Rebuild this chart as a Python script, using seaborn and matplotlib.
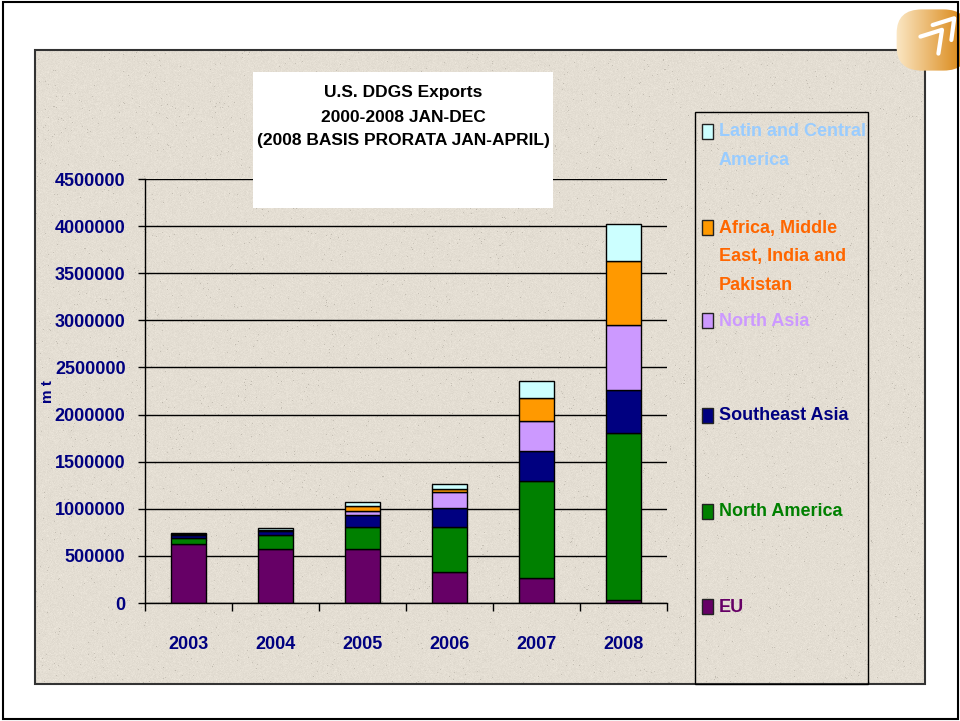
import numpy as np
import matplotlib
matplotlib.use("Agg")
import matplotlib.pyplot as plt
from matplotlib.patches import Rectangle, FancyBboxPatch
from matplotlib.ticker import FuncFormatter, FixedLocator
from matplotlib import font_manager
import seaborn as sns

# data (metric tonnes)
years = ["2003", "2004", "2005", "2006", "2007", "2008"]
eu = [630000, 576000, 573000, 326000, 269000, 27000]
north_america = [65000, 149000, 234000, 484000, 1030000, 1775000]
southeast_asia = [28000, 39000, 124000, 195000, 312000, 462000]
north_asia = [8000, 8000, 42000, 170000, 318000, 685000]
africa_me = [4000, 6000, 53000, 35000, 251000, 683000]
latin_central = [11000, 22000, 46000, 50000, 180000, 390000]

series_names = ["EU", "North America", "Southeast Asia", "North Asia",
                "Africa, Middle\nEast, India and\nPakistan", "Latin and Central\nAmerica"]
series_values = [eu, north_america, southeast_asia, north_asia, africa_me, latin_central]
bar_colors = ["#660066", "#008000", "#000080", "#CC99FF", "#FF9900", "#CCFFFF"]
text_colors = ["#660066", "#008000", "#000080", "#CC99FF", "#FF6600", "#99CCFF"]

title_lines = ["U.S. DDGS Exports", "2000-2008 JAN-DEC", "(2008 BASIS PRORATA JAN-APRIL)"]
y_ticks = np.arange(0, 4500001, 500000)

sns.set_style("white")
names = {f.name for f in font_manager.fontManager.ttflist}
narrow = "Liberation Sans Narrow" in names
print("narrow available:", narrow)
plt.rcParams["font.family"] = ["Liberation Sans Narrow" if narrow else "Liberation Sans", "DejaVu Sans"]
plt.rcParams["font.weight"] = "bold"
FS = 16 if narrow else 13
TS = 16 if narrow else 12.5

W, H = 960, 721
fig = plt.figure(figsize=(W / 100, H / 100), dpi=100)
fig.patch.set_facecolor("white")


def box(x0, y0, x1, y1):
    # pixel box (top-left origin) -> figure fraction rect
    return [x0 / W, 1 - y1 / H, (x1 - x0) / W, (y1 - y0) / H]


# slide border
fig.patches.append(Rectangle((3 / W, 2 / H), 955 / W, 717 / H, transform=fig.transFigure,
                             fill=False, edgecolor="black", lw=1.5, zorder=5))

# textured beige panel
bg = fig.add_axes(box(35, 50, 925, 684), zorder=-2)
rng = np.random.default_rng(3)
ph, pw = 634, 890
tex = np.ones((ph, pw, 3)) * np.array([228, 222, 211]) / 255
tex += rng.normal(0, 0.012, (ph, pw, 1))
dots = rng.random((ph, pw)) < 0.006
tex[dots] -= 0.12
bg.imshow(np.clip(tex, 0, 1), aspect="auto", interpolation="nearest")
bg.axis("off")
fig.patches.append(Rectangle((35 / W, 1 - 684 / H), 890 / W, 634 / H, transform=fig.transFigure,
                             fill=False, edgecolor="#333333", lw=1.5, zorder=1))

# logo in the corner
lg = fig.add_axes(box(888, 6, 960, 74), zorder=2)
grad = np.linspace(0, 1, 100)
gold = np.array([[1.0, 0.95, 0.85]]) * (1 - grad[:, None]) + np.array([[0.86, 0.55, 0.12]]) * grad[:, None]
lg.imshow(gold[None, :, :], aspect="auto", extent=(0, 1, 0, 1))
clip = FancyBboxPatch((0.12, 0.05), 1.0, 0.9, boxstyle="round,pad=0,rounding_size=0.35",
                      transform=lg.transData, facecolor="none", edgecolor="none")
lg.add_patch(clip)
lg.images[0].set_clip_path(clip)
lg.plot([0.45, 0.75, 0.7], [0.55, 0.65, 0.3], color="white", lw=3, solid_capstyle="round")
lg.plot([0.62, 0.92, 0.88], [0.72, 0.82, 0.5], color="white", lw=3, solid_capstyle="round")
lg.set_xlim(0, 1)
lg.set_ylim(0, 1)
lg.axis("off")

# main chart
ax = fig.add_axes(box(145, 179, 667, 603), zorder=0)
ax.set_facecolor("none")
bottom = np.zeros(len(years))
for vals, col in zip(series_values, bar_colors):
    sns.barplot(x=years, y=vals, bottom=bottom, color=col, width=0.4,
                edgecolor="black", linewidth=1, saturation=1, ax=ax)
    bottom = bottom + np.array(vals)

ax.set_ylim(0, 4500000)
ax.set_xlim(-0.5, 5.5)
ax.set_yticks(y_ticks)
ax.yaxis.set_major_formatter(FuncFormatter(lambda v, p: f"{int(v)}"))
ax.yaxis.grid(True, color="black", lw=1)
ax.xaxis.grid(False)
ax.set_axisbelow(True)
for s in ["top", "right"]:
    ax.spines[s].set_visible(False)
for s in ["left", "bottom"]:
    ax.spines[s].set_color("black")
    ax.spines[s].set_linewidth(1)
ax.tick_params(axis="y", direction="out", length=5, width=1, color="black", pad=9,
               labelsize=FS, labelcolor="#000080", left=True)
ax.tick_params(axis="x", which="major", length=0, pad=24, labelsize=FS, labelcolor="#000080")
ax.xaxis.set_minor_locator(FixedLocator(np.arange(-0.5, 6, 1)))
ax.tick_params(axis="x", which="minor", direction="out", length=6, width=1, color="black", bottom=True)
ax.set_xlabel("")
ax.set_ylabel("")
fig.text(48 / W, 1 - 392 / H, "m t", rotation=90, ha="center", va="center",
         color="#000080", fontsize=12 if narrow else 11, fontweight="bold")

# title box
fig.patches.append(Rectangle((253 / W, 1 - 208 / H), 300 / W, 136 / H, transform=fig.transFigure,
                             facecolor="white", edgecolor="none", zorder=3))
for i, line in enumerate(title_lines):
    fig.text(403 / W, 1 - (93 + 24 * i) / H, line, ha="center", va="center",
             color="black", fontsize=TS, fontweight="bold", zorder=4)

# legend box
fig.patches.append(Rectangle((695 / W, 1 - 684 / H), 173 / W, 572 / H, transform=fig.transFigure,
                             fill=False, edgecolor="black", lw=1, zorder=1))
entry_y = [607, 512, 416, 321, 228, 132]
for name, col, tcol, y in zip(series_names, bar_colors, text_colors, entry_y):
    fig.patches.append(Rectangle((702 / W, 1 - (y + 7) / H), 11 / W, 15 / H, transform=fig.transFigure,
                                 facecolor=col, edgecolor="#222222", lw=1, zorder=2))
    for j, line in enumerate(name.split("\n")):
        fig.text(719 / W, 1 - (y + 28.5 * j) / H, line, ha="left", va="center",
                 color=tcol, fontsize=FS, fontweight="bold", zorder=2)

fig.savefig("out.png", dpi=100)
